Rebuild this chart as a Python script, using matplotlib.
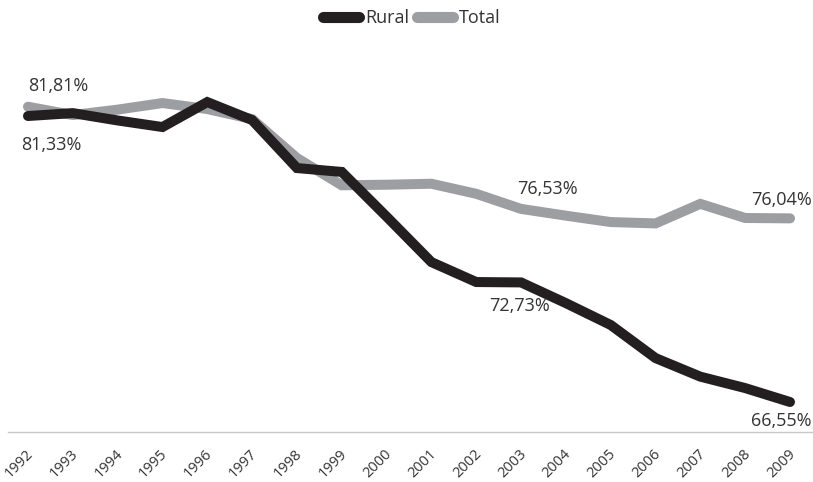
import matplotlib
matplotlib.use("Agg")
import matplotlib.pyplot as plt
import matplotlib.transforms as mtransforms

years = list(range(1992, 2010))
rural = [81.33, 81.48, 81.10, 80.76, 82.05, 81.12, 78.64, 78.44, 76.13, 73.78,
         72.75, 72.73, 71.66, 70.53, 68.82, 67.86, 67.27, 66.55]
total = [81.81, 81.38, 81.66, 82.00, 81.69, 81.17, 79.16, 77.75, 77.78, 77.83,
         77.31, 76.53, 76.18, 75.85, 75.78, 76.79, 76.06, 76.04]
tick_labels = [str(y) for y in years]

# (series, year index, text, offset in points)
annotations = [
    ("total", 0, "81,81%", (22, 15)),
    ("rural", 0, "81,33%", (17, -21)),
    ("total", 11, "76,53%", (19, 14)),
    ("rural", 11, "72,73%", (-1, -17)),
    ("total", 17, "76,04%", (-6, 13)),
    ("rural", 17, "66,55%", (-6, -14)),
]

plt.rcParams['font.family'] = ['Open Sans', 'DejaVu Sans']

fig = plt.figure(figsize=(8.13, 4.82), dpi=100)
ax = fig.add_axes([8 / 813, (482 - 432) / 482, 805 / 813, (432 - 45) / 482])

black = "#231f20"
gray = "#9d9ea2"
lw = 7.2
ax.plot(years, total, color=gray, lw=lw, solid_capstyle="round",
        solid_joinstyle="miter", label="Total", zorder=2)
ax.plot(years, rural, color=black, lw=lw, solid_capstyle="round",
        solid_joinstyle="miter", label="Rural", zorder=3)

ax.set_xlim(1991.554, 2009.513)
ax.set_ylim(65, 85)

for s in ["top", "right", "left"]:
    ax.spines[s].set_visible(False)
ax.spines["bottom"].set_color("#c8c8c8")
ax.spines["bottom"].set_linewidth(1.0)
ax.set_yticks([])
ax.set_xticks(years)
ax.set_xticklabels(tick_labels, rotation=45, ha="right", va="center",
                   rotation_mode="anchor", fontsize=10.5, color="#333333")
ax.tick_params(axis="x", length=0, pad=14)
shift = mtransforms.ScaledTranslation(3 / 100, 0, fig.dpi_scale_trans)
for lbl in ax.get_xticklabels():
    lbl.set_transform(lbl.get_transform() + shift)

series = {"rural": rural, "total": total}
for name, i, txt, off in annotations:
    ax.annotate(txt, (years[i], series[name][i]), xytext=off,
                textcoords="offset points", ha="center", va="center",
                fontsize=13, color="#333333", zorder=5)

handles, labels = ax.get_legend_handles_labels()
order = [1, 0]
leg = fig.legend([handles[k] for k in order], [labels[k] for k in order],
                 loc="center", bbox_to_anchor=(412 / 813, 1 - 18 / 482),
                 ncol=2, frameon=False, fontsize=13, handlelength=2.0,
                 columnspacing=0.4, handletextpad=0.35)
for t in leg.get_texts():
    t.set_color("#333333")
for h in leg.get_lines():
    h.set_linewidth(8)

fig.savefig("out.png", dpi=100)
